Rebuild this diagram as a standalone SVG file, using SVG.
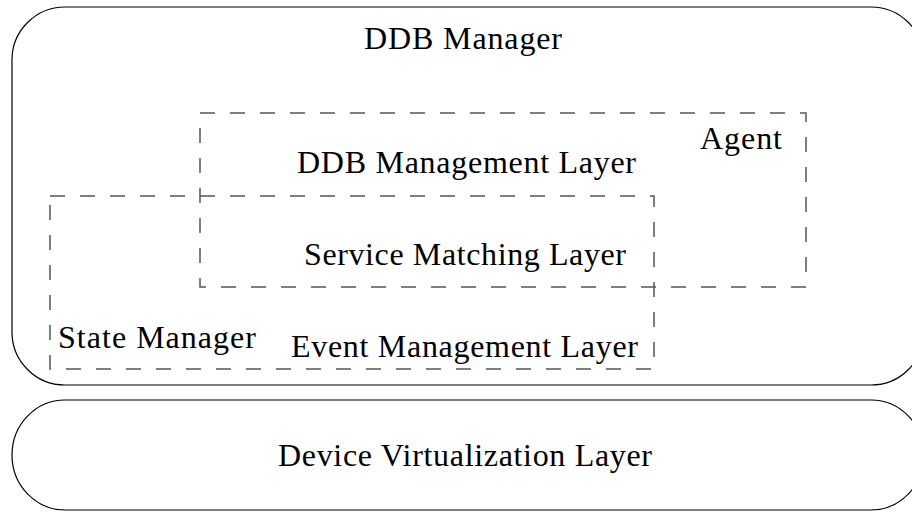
<svg xmlns="http://www.w3.org/2000/svg" width="912" height="512" viewBox="0 0 912 512">
<style>
.box{fill:none;stroke:#000;stroke-width:1.2}
.dash{fill:none;stroke:#555;stroke-width:1.5;stroke-dasharray:15 15}
text{font-family:"Liberation Serif","Times New Roman",serif;font-size:32px;fill:#000}
</style>
<rect width="912" height="512" fill="#fff"/>
<g id="ddb-manager">
<rect class="box" x="12" y="7" width="912" height="378" rx="53" ry="53"/>
<text x="364" y="49" textLength="198">DDB Manager</text>
</g>
<g id="device-virtualization-layer">
<rect class="box" x="12" y="400" width="912" height="110" rx="53" ry="55"/>
<text x="278" y="466" textLength="374">Device Virtualization Layer</text>
</g>
<g id="agent">
<rect class="dash" x="200" y="113" width="606" height="174"/>
<text x="700" y="149" textLength="82">Agent</text>
<text x="297" y="173" textLength="339">DDB Management Layer</text>
</g>
<g id="state-manager">
<rect class="dash" x="50" y="196" width="604" height="173"/>
<text x="58" y="348" textLength="198">State Manager</text>
<text x="291" y="357" textLength="347">Event Management Layer</text>
</g>
<g id="service-matching-layer">
<text x="304" y="265" textLength="322">Service Matching Layer</text>
</g>
<g id="connectors"></g>
</svg>
